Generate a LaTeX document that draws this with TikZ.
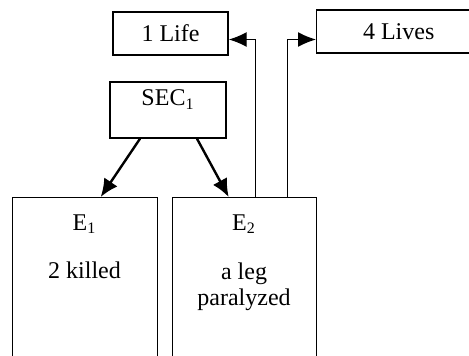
\documentclass[tikz,border=0pt]{standalone}
\usepackage{fontspec}
\setmainfont{Liberation Serif}
\usetikzlibrary{arrows.meta}

\tikzset{
  box/.style={draw, line width=0.7pt, inner sep=0pt},
  branch/.style={line width=1.2pt, -{Latex[length=9pt,width=8pt]}},
  link/.style={line width=0.7pt, -{Latex[length=9pt,width=7.5pt]}},
}

\begin{document}
\begin{tikzpicture}[x=0.5pt,y=-0.5pt,font=\fontsize{12}{13.5}\selectfont]
    \useasboundingbox (0,0) rectangle (469,355);
    \clip (0,0) rectangle (469,355);

    % upper boxes
    \node[box, minimum width=57.5pt, minimum height=21.5pt] (life) at (170.5,33.5) {1 Life};
    \node[box, minimum width=82pt, minimum height=21.5pt, anchor=west] (lives) at (316,31.5) {4 Lives};
    \node[box, minimum width=58pt, text height=11.75pt, text depth=16.25pt] (sec) at (168,110) {SEC\textsubscript{1}};

    % event boxes, cut off at the bottom
    \node[box, minimum width=72.5pt, minimum height=90pt, anchor=north west] (e1) at (12,197) {};
    \node[box, minimum width=72pt, minimum height=90pt, anchor=north west] (e2) at (172,197) {};

    \node[anchor=base] (e1name) at (84.5,230) {E\textsubscript{1}};
    \node[anchor=base] (e1text) at (84.5,278) {2 killed};
    \node[anchor=base] (e2name) at (244,230) {E\textsubscript{2}};
    \node[anchor=base] (e2text) at (244,279) {a leg};
    \node[anchor=base] (e2more) at (244,305) {paralyzed};

    % connectors
    \draw[branch] ([xshift=-14pt]sec.south) -- ([xshift=7.75pt]e1.north);
    \draw[branch] ([xshift=14.5pt]sec.south) -- ([xshift=-8pt]e2.north);
    \draw[link] ([xshift=5.5pt]e2.north) |- ([yshift=-3pt]life.east);
    \draw[link] ([xshift=21.5pt]e2.north) |- ([yshift=-4pt]lives.west);
\end{tikzpicture}
\end{document}
